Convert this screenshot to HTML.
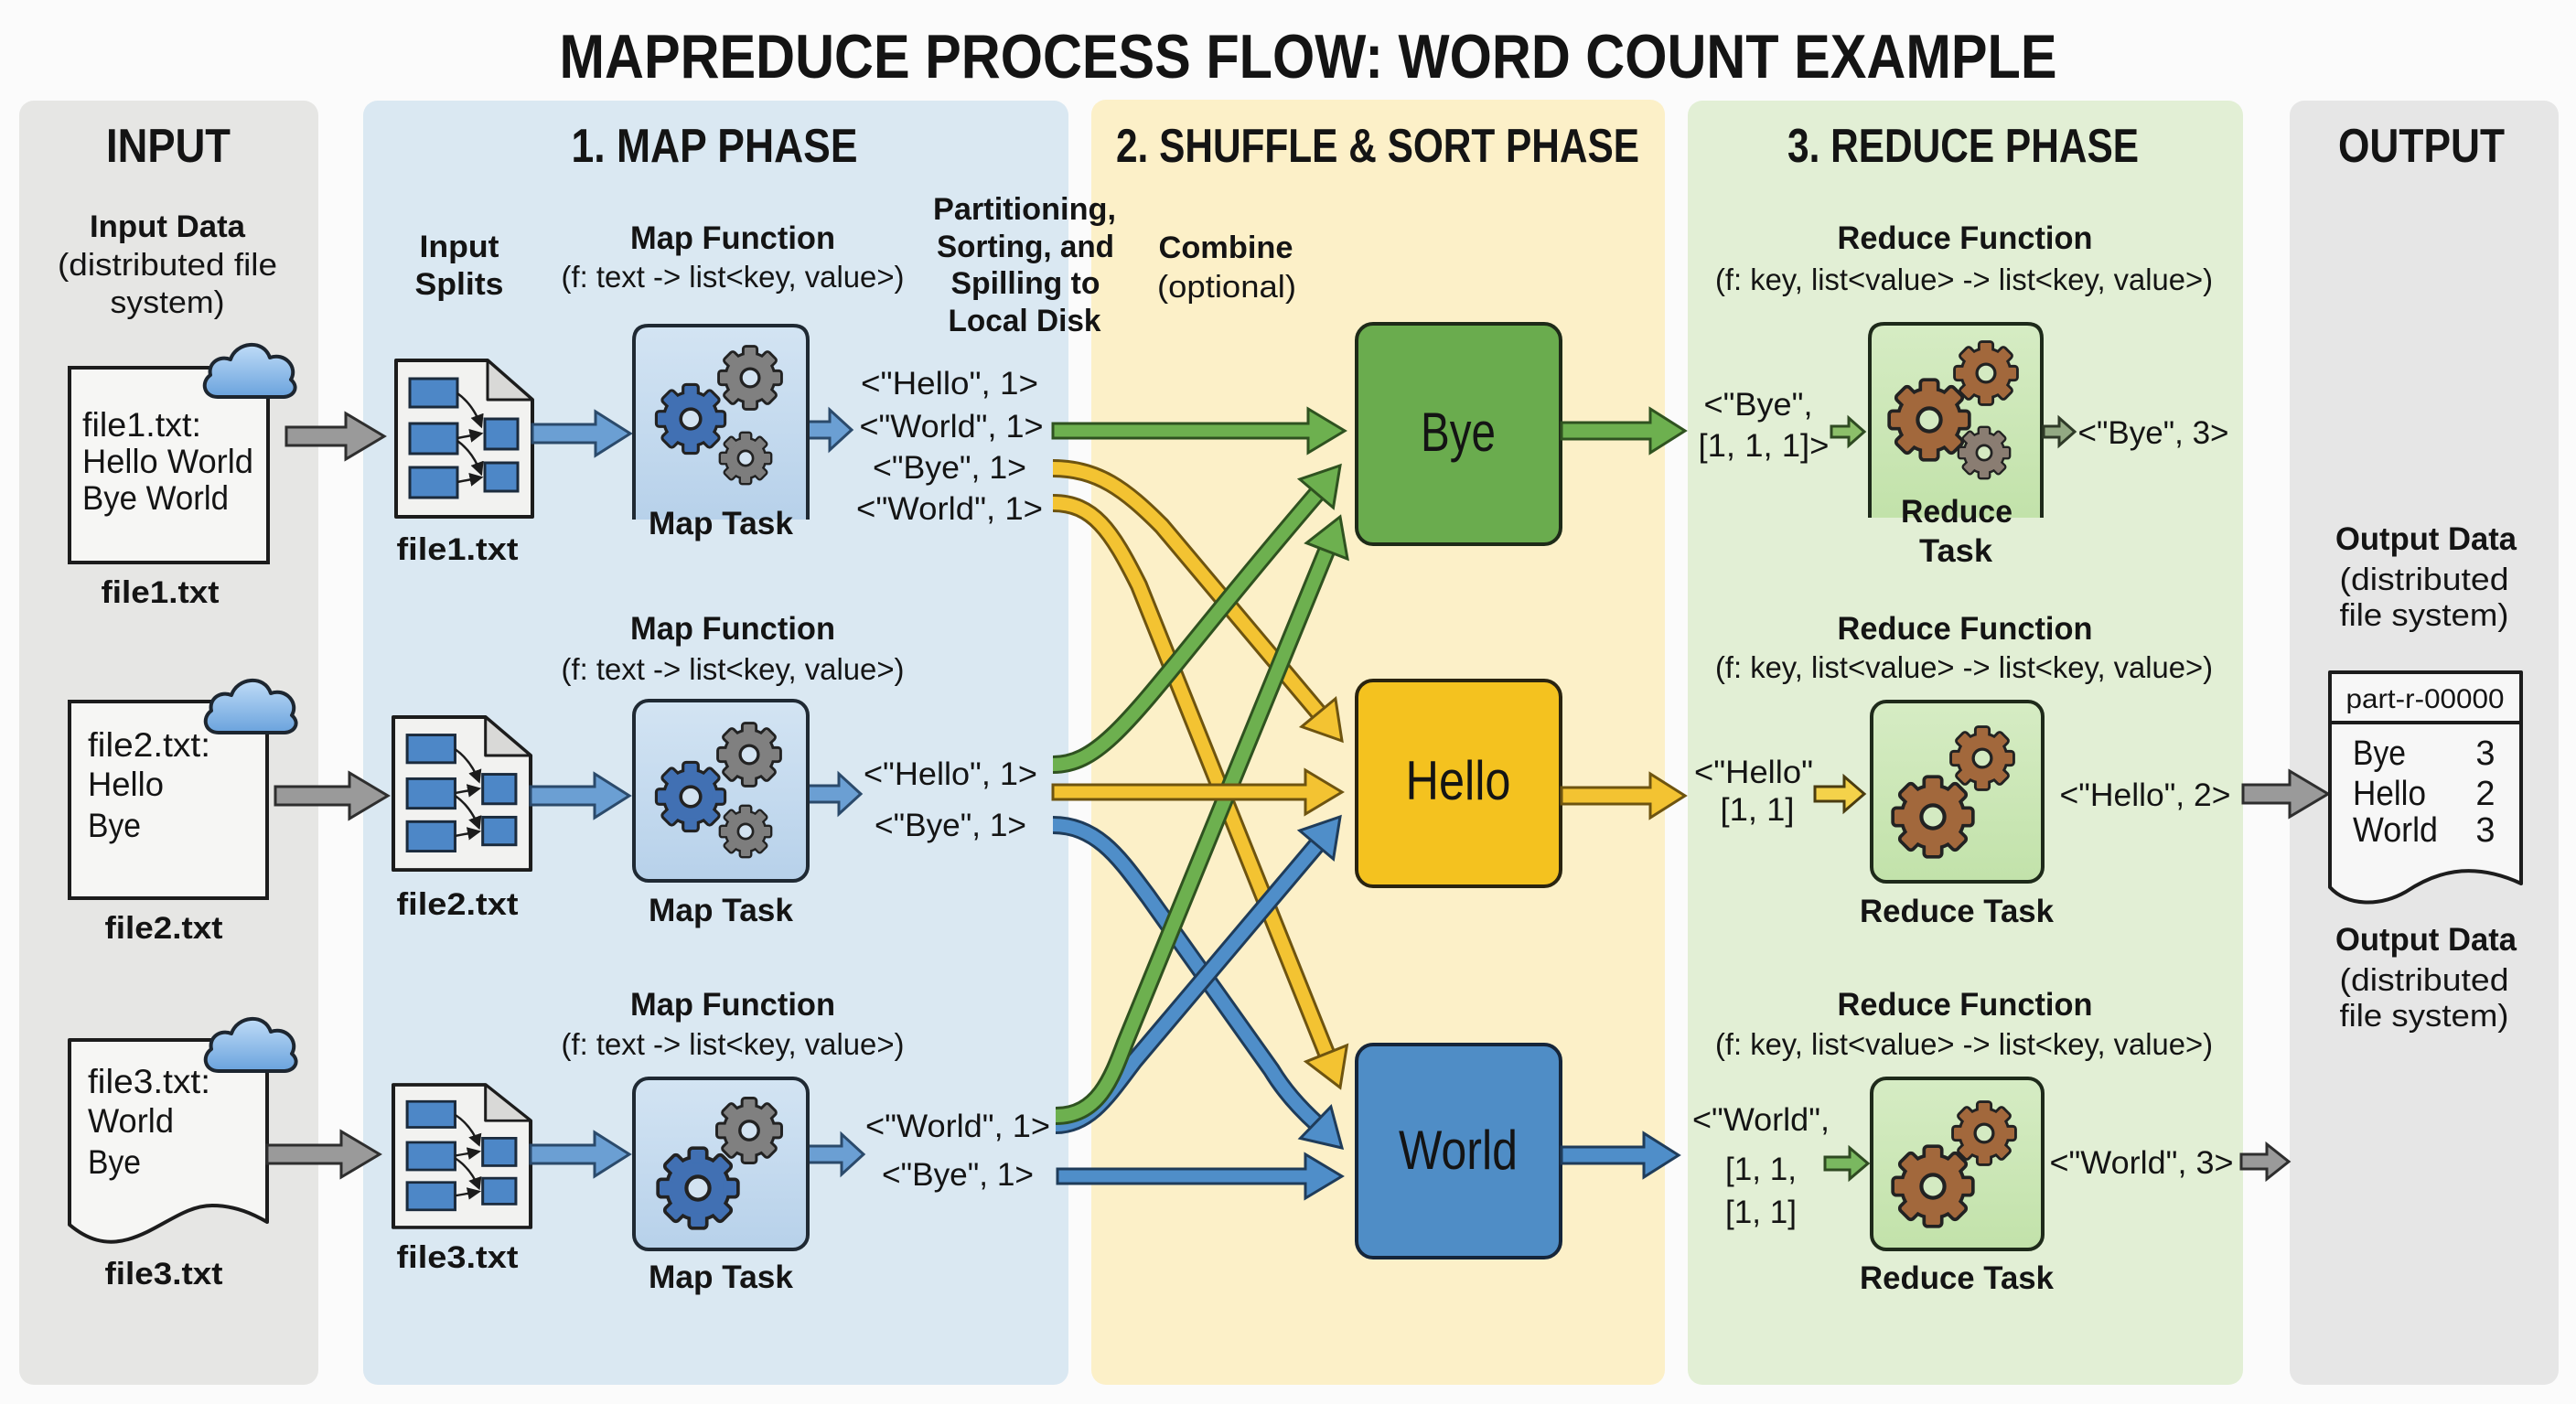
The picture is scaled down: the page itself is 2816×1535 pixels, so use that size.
<!DOCTYPE html>
<html><head><meta charset="utf-8"><title>MapReduce Process Flow</title>
<style>
html,body{margin:0;padding:0;background:#fbfbfb;}
svg{display:block;}
.t{font-family:"Liberation Sans Narrow","Liberation Sans",sans-serif;fill:#141414;}
.r{font-family:"Liberation Sans",sans-serif;fill:#141414;}
.b{font-weight:bold;}
</style></head>
<body>
<svg width="2816" height="1535" viewBox="0 0 2816 1535" xmlns="http://www.w3.org/2000/svg">
<defs>
  <linearGradient id="mapg" x1="0" y1="0" x2="0" y2="1"><stop offset="0" stop-color="#d3e4f3"/><stop offset="1" stop-color="#b7d1ea"/></linearGradient>
  <linearGradient id="redg" x1="0" y1="0" x2="0" y2="1"><stop offset="0" stop-color="#d6ecc4"/><stop offset="1" stop-color="#c2e2aa"/></linearGradient>
  <linearGradient id="cloudg" x1="0" y1="0" x2="0" y2="1"><stop offset="0" stop-color="#bfdcf7"/><stop offset="1" stop-color="#6aa3dd"/></linearGradient>
  <marker id="ah" markerWidth="6" markerHeight="6" refX="5" refY="3" orient="auto" markerUnits="strokeWidth"><path d="M0,0 L6,3 L0,6 Z" fill="#1c1c1c"/></marker>
  <g id="gs">
    <circle r="31"/>
    <rect x="-7.5" y="-40" width="15" height="14" rx="2"/>
    <rect x="-7.5" y="-40" width="15" height="14" rx="2" transform="rotate(45)"/>
    <rect x="-7.5" y="-40" width="15" height="14" rx="2" transform="rotate(90)"/>
    <rect x="-7.5" y="-40" width="15" height="14" rx="2" transform="rotate(135)"/>
    <rect x="-7.5" y="-40" width="15" height="14" rx="2" transform="rotate(180)"/>
    <rect x="-7.5" y="-40" width="15" height="14" rx="2" transform="rotate(225)"/>
    <rect x="-7.5" y="-40" width="15" height="14" rx="2" transform="rotate(270)"/>
    <rect x="-7.5" y="-40" width="15" height="14" rx="2" transform="rotate(315)"/>
  </g>
  <g id="split">
    <path d="M0,0 H100 L149,43 V171 H0 Z" fill="#f2f2f0" stroke="#1c1c1c" stroke-width="4" stroke-linejoin="round"/>
    <path d="M100,0 L149,43 H100 Z" fill="#d9d9d7" stroke="#1c1c1c" stroke-width="3" stroke-linejoin="round"/>
    <g fill="#4d87c7" stroke="#1b2b3d" stroke-width="3">
      <rect x="15" y="20" width="52" height="31"/>
      <rect x="15" y="69" width="52" height="33"/>
      <rect x="15" y="117" width="52" height="33"/>
      <rect x="97" y="64" width="36" height="33"/>
      <rect x="97" y="112" width="36" height="31"/>
    </g>
    <g stroke="#1c1c1c" stroke-width="2.5" fill="none" marker-end="url(#ah)">
      <path d="M67,36 Q84,48 93,72"/>
      <path d="M67,85 L93,80"/>
      <path d="M67,88 Q84,100 93,124"/>
      <path d="M67,133 L93,128"/>
    </g>
  </g>
  <path id="cloud" d="M20,66 C5,66 1,50 12,42 C9,29 22,20 34,25 C40,6 70,2 77,23 C93,17 108,33 100,47 C110,56 102,66 92,66 Z" fill="url(#cloudg)" stroke="#1d2630" stroke-width="4" stroke-linejoin="round"/>
</defs>

<rect x="0" y="0" width="2816" height="1535" fill="#fbfbfb"/>

<!-- Panels -->
<rect x="21" y="110" width="327" height="1404" rx="16" fill="#e6e6e4"/>
<rect x="397" y="110" width="771" height="1404" rx="16" fill="#dae8f2"/>
<rect x="1193" y="109" width="627" height="1405" rx="16" fill="#fcf0c8"/>
<rect x="1845" y="110" width="607" height="1404" rx="16" fill="#e2efd5"/>
<rect x="2503" y="110" width="294" height="1404" rx="16" fill="#e6e6e6"/>

<!-- Title & headings -->
<text class="t b" x="1430" y="85" font-size="68" text-anchor="middle" textLength="1637" lengthAdjust="spacingAndGlyphs">MAPREDUCE PROCESS FLOW: WORD COUNT EXAMPLE</text>
<text class="t b" x="184" y="177" font-size="52" text-anchor="middle" textLength="136" lengthAdjust="spacingAndGlyphs">INPUT</text>
<text class="t b" x="781" y="177" font-size="52" text-anchor="middle" textLength="313" lengthAdjust="spacingAndGlyphs">1. MAP PHASE</text>
<text class="t b" x="1506" y="177" font-size="52" text-anchor="middle" textLength="572" lengthAdjust="spacingAndGlyphs">2. SHUFFLE &amp; SORT PHASE</text>
<text class="t b" x="2146" y="177" font-size="52" text-anchor="middle" textLength="384" lengthAdjust="spacingAndGlyphs">3. REDUCE PHASE</text>
<text class="t b" x="2647" y="177" font-size="52" text-anchor="middle" textLength="182" lengthAdjust="spacingAndGlyphs">OUTPUT</text>

<!-- INPUT column -->
<text class="t b" x="183" y="259" font-size="34" text-anchor="middle" textLength="170" lengthAdjust="spacingAndGlyphs">Input Data</text>
<text class="t" x="183" y="301" font-size="34" text-anchor="middle" textLength="240" lengthAdjust="spacingAndGlyphs">(distributed file</text>
<text class="t" x="183" y="342" font-size="34" text-anchor="middle" textLength="125" lengthAdjust="spacingAndGlyphs">system)</text>

<rect x="76" y="402" width="217" height="213" fill="#f6f6f4" stroke="#1c1c1c" stroke-width="4"/>
<use href="#cloud" x="218" y="368"/>
<text class="r" x="90" y="477" font-size="37" textLength="130" lengthAdjust="spacingAndGlyphs">file1.txt:</text>
<text class="r" x="90" y="517" font-size="37" textLength="187" lengthAdjust="spacingAndGlyphs">Hello World</text>
<text class="r" x="90" y="557" font-size="37" textLength="160" lengthAdjust="spacingAndGlyphs">Bye World</text>
<text class="t b" x="175" y="659" font-size="34" text-anchor="middle" textLength="129" lengthAdjust="spacingAndGlyphs">file1.txt</text>

<rect x="76" y="767" width="216" height="215" fill="#f6f6f4" stroke="#1c1c1c" stroke-width="4"/>
<use href="#cloud" x="219" y="735"/>
<text class="r" x="96" y="827" font-size="37" textLength="134" lengthAdjust="spacingAndGlyphs">file2.txt:</text>
<text class="r" x="96" y="870" font-size="37" textLength="83" lengthAdjust="spacingAndGlyphs">Hello</text>
<text class="r" x="96" y="915" font-size="37" textLength="58" lengthAdjust="spacingAndGlyphs">Bye</text>
<text class="t b" x="179" y="1026" font-size="34" text-anchor="middle" textLength="129" lengthAdjust="spacingAndGlyphs">file2.txt</text>

<path d="M76,1137 H292 V1336 C278,1328 258,1318 232,1318 C200,1318 175,1345 140,1355 C115,1362 95,1355 76,1339 Z" fill="#f6f6f4" stroke="#1c1c1c" stroke-width="4" stroke-linejoin="round"/>
<use href="#cloud" x="219" y="1105"/>
<text class="r" x="96" y="1195" font-size="37" textLength="134" lengthAdjust="spacingAndGlyphs">file3.txt:</text>
<text class="r" x="96" y="1238" font-size="37" textLength="94" lengthAdjust="spacingAndGlyphs">World</text>
<text class="r" x="96" y="1283" font-size="37" textLength="58" lengthAdjust="spacingAndGlyphs">Bye</text>
<text class="t b" x="179" y="1404" font-size="34" text-anchor="middle" textLength="129" lengthAdjust="spacingAndGlyphs">file3.txt</text>

<!-- gray input arrows -->
<g fill="#9a9a9a" stroke="#2e2e2e" stroke-width="3" stroke-linejoin="miter">
  <polygon points="313,467 378,467 378,452 420,477 378,502 378,487 313,487"/>
  <polygon points="301,860 382,860 382,845 424,870 382,895 382,880 301,880"/>
  <polygon points="292,1252 373,1252 373,1237 415,1262 373,1287 373,1272 292,1272"/>
</g>

<!-- MAP column -->
<text class="t b" x="502" y="281" font-size="34" text-anchor="middle" textLength="87" lengthAdjust="spacingAndGlyphs">Input</text>
<text class="t b" x="502" y="322" font-size="34" text-anchor="middle" textLength="97" lengthAdjust="spacingAndGlyphs">Splits</text>

<text class="t b" x="801" y="272" font-size="35" text-anchor="middle" textLength="224" lengthAdjust="spacingAndGlyphs">Map Function</text>
<text class="t" x="801" y="314" font-size="33" text-anchor="middle" textLength="375" lengthAdjust="spacingAndGlyphs">(f: text -&gt; list&lt;key, value&gt;)</text>
<text class="t b" x="801" y="699" font-size="35" text-anchor="middle" textLength="224" lengthAdjust="spacingAndGlyphs">Map Function</text>
<text class="t" x="801" y="743" font-size="33" text-anchor="middle" textLength="375" lengthAdjust="spacingAndGlyphs">(f: text -&gt; list&lt;key, value&gt;)</text>
<text class="t b" x="801" y="1110" font-size="35" text-anchor="middle" textLength="224" lengthAdjust="spacingAndGlyphs">Map Function</text>
<text class="t" x="801" y="1153" font-size="33" text-anchor="middle" textLength="375" lengthAdjust="spacingAndGlyphs">(f: text -&gt; list&lt;key, value&gt;)</text>

<use href="#split" transform="translate(433,394)"/>
<use href="#split" transform="translate(430,784) scale(1.007,0.977)"/>
<use href="#split" transform="translate(430,1186) scale(1.007,0.912)"/>
<text class="t b" x="500" y="612" font-size="34" text-anchor="middle" textLength="133" lengthAdjust="spacingAndGlyphs">file1.txt</text>
<text class="t b" x="500" y="1000" font-size="34" text-anchor="middle" textLength="133" lengthAdjust="spacingAndGlyphs">file2.txt</text>
<text class="t b" x="500" y="1386" font-size="34" text-anchor="middle" textLength="133" lengthAdjust="spacingAndGlyphs">file3.txt</text>

<g fill="#6b9fd3" stroke="#2b4a6b" stroke-width="3">
  <polygon points="582,464 651,464 651,450 689,474 651,498 651,484 582,484"/>
  <polygon points="580,860 650,860 650,846 688,870 650,894 650,880 580,880"/>
  <polygon points="580,1252 650,1252 650,1238 688,1262 650,1286 650,1272 580,1272"/>
  <polygon points="883,461 907,461 907,448 931,470 907,492 907,479 883,479"/>
  <polygon points="883,859 917,859 917,846 941,868 917,890 917,877 883,877"/>
  <polygon points="883,1253 920,1253 920,1240 944,1262 920,1284 920,1271 883,1271"/>
</g>

<!-- map task boxes -->
<path d="M693,568 V372 Q693,356 709,356 H867 Q883,356 883,372 V568" fill="url(#mapg)" stroke="#1f2933" stroke-width="4"/>
<rect x="693" y="766" width="190" height="197" rx="16" fill="url(#mapg)" stroke="#1f2933" stroke-width="4"/>
<rect x="693" y="1179" width="190" height="187" rx="16" fill="url(#mapg)" stroke="#1f2933" stroke-width="4"/>

<!-- map gears -->
<g transform="translate(820,413) scale(0.825)"><use href="#gs" fill="#222" stroke="#222" stroke-width="7"/><use href="#gs" fill="#808080"/><circle r="12" fill="#d3e3f1" stroke="#222" stroke-width="4"/></g>
<g transform="translate(815,501) scale(0.675)"><use href="#gs" fill="#222" stroke="#222" stroke-width="7"/><use href="#gs" fill="#7d7d7d"/><circle r="12" fill="#d3e3f1" stroke="#222" stroke-width="4"/></g>
<g transform="translate(755,458) scale(0.9)"><use href="#gs" fill="#222" stroke="#222" stroke-width="7"/><use href="#gs" fill="#4170b3"/><circle r="12" fill="#d3e3f1" stroke="#222" stroke-width="4"/></g>

<g transform="translate(819,825) scale(0.825)"><use href="#gs" fill="#222" stroke="#222" stroke-width="7"/><use href="#gs" fill="#808080"/><circle r="12" fill="#d3e3f1" stroke="#222" stroke-width="4"/></g>
<g transform="translate(815,909) scale(0.675)"><use href="#gs" fill="#222" stroke="#222" stroke-width="7"/><use href="#gs" fill="#7d7d7d"/><circle r="12" fill="#d3e3f1" stroke="#222" stroke-width="4"/></g>
<g transform="translate(755,871) scale(0.9)"><use href="#gs" fill="#222" stroke="#222" stroke-width="7"/><use href="#gs" fill="#4170b3"/><circle r="12" fill="#d3e3f1" stroke="#222" stroke-width="4"/></g>

<g transform="translate(819,1236) scale(0.85)"><use href="#gs" fill="#222" stroke="#222" stroke-width="7"/><use href="#gs" fill="#808080"/><circle r="12" fill="#d3e3f1" stroke="#222" stroke-width="4"/></g>
<g transform="translate(763,1299) scale(1.05)"><use href="#gs" fill="#222" stroke="#222" stroke-width="7"/><use href="#gs" fill="#4170b3"/><circle r="12" fill="#d3e3f1" stroke="#222" stroke-width="4"/></g>

<text class="t b" x="788" y="584" font-size="35" text-anchor="middle" textLength="158" lengthAdjust="spacingAndGlyphs">Map Task</text>
<text class="t b" x="788" y="1007" font-size="35" text-anchor="middle" textLength="158" lengthAdjust="spacingAndGlyphs">Map Task</text>
<text class="t b" x="788" y="1408" font-size="35" text-anchor="middle" textLength="158" lengthAdjust="spacingAndGlyphs">Map Task</text>

<!-- map outputs -->
<g class="t" font-size="35" text-anchor="middle">
<text x="1038" y="431" textLength="194" lengthAdjust="spacingAndGlyphs">&lt;"Hello", 1&gt;</text>
<text x="1040" y="478" textLength="201" lengthAdjust="spacingAndGlyphs">&lt;"World", 1&gt;</text>
<text x="1038" y="523" textLength="168" lengthAdjust="spacingAndGlyphs">&lt;"Bye", 1&gt;</text>
<text x="1038" y="568" textLength="204" lengthAdjust="spacingAndGlyphs">&lt;"World", 1&gt;</text>
<text x="1039" y="858" textLength="190" lengthAdjust="spacingAndGlyphs">&lt;"Hello", 1&gt;</text>
<text x="1039" y="914" textLength="166" lengthAdjust="spacingAndGlyphs">&lt;"Bye", 1&gt;</text>
<text x="1047" y="1243" textLength="202" lengthAdjust="spacingAndGlyphs">&lt;"World", 1&gt;</text>
<text x="1047" y="1296" textLength="166" lengthAdjust="spacingAndGlyphs">&lt;"Bye", 1&gt;</text>
</g>

<!-- Partitioning / Combine -->
<g class="t b" font-size="34" text-anchor="middle">
<text x="1120" y="240" textLength="200" lengthAdjust="spacingAndGlyphs">Partitioning,</text>
<text x="1121" y="281" textLength="194" lengthAdjust="spacingAndGlyphs">Sorting, and</text>
<text x="1121" y="321" textLength="163" lengthAdjust="spacingAndGlyphs">Spilling to</text>
<text x="1120" y="362" textLength="167" lengthAdjust="spacingAndGlyphs">Local Disk</text>
<text x="1340" y="282" textLength="147" lengthAdjust="spacingAndGlyphs">Combine</text>
</g>
<text class="t" x="1341" y="325" font-size="34" text-anchor="middle" textLength="152" lengthAdjust="spacingAndGlyphs">(optional)</text>

<!-- Shuffle boxes -->
<rect x="1483" y="354" width="223" height="241" rx="18" fill="#6aac4e" stroke="#1e2a18" stroke-width="4"/>
<rect x="1483" y="744" width="223" height="225" rx="18" fill="#f4c21f" stroke="#2a2410" stroke-width="4"/>
<rect x="1483" y="1142" width="223" height="233" rx="18" fill="#4f8dc6" stroke="#15253a" stroke-width="4"/>
<text class="t" x="1594" y="493" font-size="60" text-anchor="middle" textLength="82" lengthAdjust="spacingAndGlyphs">Bye</text>
<text class="t" x="1594" y="874" font-size="60" text-anchor="middle" textLength="115" lengthAdjust="spacingAndGlyphs">Hello</text>
<text class="t" x="1594" y="1278" font-size="60" text-anchor="middle" textLength="130" lengthAdjust="spacingAndGlyphs">World</text>

<!-- Shuffle arrows: curved -->
<g fill="none" stroke-linecap="butt">
  <!-- Y1 -->
  <path d="M1151,512 C1200,512 1230,535 1270,575 L1443,781" stroke="#6e5410" stroke-width="20"/>
  <path d="M1151,512 C1200,512 1230,535 1270,575 L1443,781" stroke="#f3c332" stroke-width="14"/>
  <!-- Y2 -->
  <path d="M1151,550 C1195,550 1215,580 1245,640 L1451,1154" stroke="#6e5410" stroke-width="20"/>
  <path d="M1151,550 C1195,550 1215,580 1245,640 L1451,1154" stroke="#f3c332" stroke-width="14"/>
  <!-- B1 -->
  <path d="M1151,902 C1200,902 1225,940 1255,980 L1390,1170 Q1408,1200 1440,1229" stroke="#1f3c5a" stroke-width="20"/>
  <path d="M1151,902 C1200,902 1225,940 1255,980 L1390,1170 Q1408,1200 1440,1229" stroke="#4f8ec9" stroke-width="14"/>
  <!-- G2 -->
  <path d="M1151,836 C1215,836 1250,760 1441,538" stroke="#2f5220" stroke-width="20"/>
  <path d="M1151,836 C1215,836 1250,760 1441,538" stroke="#6db04f" stroke-width="14"/>
  <!-- B2 -->
  <path d="M1154,1230 C1190,1230 1210,1200 1240,1160 L1441,922" stroke="#1f3c5a" stroke-width="20"/>
  <path d="M1154,1230 C1190,1230 1210,1200 1240,1160 L1441,922" stroke="#4f8ec9" stroke-width="14"/>
  <!-- G3 -->
  <path d="M1154,1220 C1200,1220 1215,1180 1230,1140 L1451,600" stroke="#2f5220" stroke-width="20"/>
  <path d="M1154,1220 C1200,1220 1215,1180 1230,1140 L1451,600" stroke="#6db04f" stroke-width="14"/>
</g>
<g stroke-width="3" stroke-linejoin="miter">
  <polygon points="1467,810 1422.9,794.5 1459.9,763.9" fill="#f3c332" stroke="#6e5410"/>
  <polygon points="1465,1189 1427.8,1160.7 1472.4,1142.9" fill="#f3c332" stroke="#6e5410"/>
  <polygon points="1467,1255 1421.5,1244.5 1454.9,1209.9" fill="#4f8ec9" stroke="#1f3c5a"/>
  <polygon points="1465,509 1457.5,555 1420.9,524" fill="#6db04f" stroke="#2f5220"/>
  <polygon points="1465,893 1457.6,939.1 1420.8,908.1" fill="#4f8ec9" stroke="#1f3c5a"/>
  <polygon points="1465,565 1473,611 1428.2,593.7" fill="#6db04f" stroke="#2f5220"/>
</g>
<!-- Shuffle arrows: straight -->
<g stroke-width="3">
  <polygon points="1151,463 1430,463 1430,447 1470,471 1430,495 1430,479 1151,479" fill="#6db04f" stroke="#2f5220"/>
  <polygon points="1151,858 1427,858 1427,842 1467,866 1427,890 1427,874 1151,874" fill="#f3c332" stroke="#6e5410"/>
  <polygon points="1156,1278 1427,1278 1427,1262 1467,1286 1427,1310 1427,1294 1156,1294" fill="#4f8ec9" stroke="#1f3c5a"/>
  <polygon points="1707,462 1804,462 1804,447 1842,471 1804,495 1804,480 1707,480" fill="#6db04f" stroke="#2f5220"/>
  <polygon points="1707,861 1804,861 1804,846 1842,870 1804,894 1804,879 1707,879" fill="#f3c332" stroke="#6e5410"/>
  <polygon points="1707,1254 1797,1254 1797,1239 1835,1263 1797,1287 1797,1272 1707,1272" fill="#4f8ec9" stroke="#1f3c5a"/>
</g>

<!-- REDUCE column -->
<g class="t b" font-size="35" text-anchor="middle">
<text x="2148" y="272" textLength="279" lengthAdjust="spacingAndGlyphs">Reduce Function</text>
<text x="2148" y="699" textLength="279" lengthAdjust="spacingAndGlyphs">Reduce Function</text>
<text x="2148" y="1110" textLength="279" lengthAdjust="spacingAndGlyphs">Reduce Function</text>
</g>
<g class="t" font-size="33" text-anchor="middle">
<text x="2147" y="317" textLength="544" lengthAdjust="spacingAndGlyphs">(f: key, list&lt;value&gt; -&gt; list&lt;key, value&gt;)</text>
<text x="2147" y="741" textLength="544" lengthAdjust="spacingAndGlyphs">(f: key, list&lt;value&gt; -&gt; list&lt;key, value&gt;)</text>
<text x="2147" y="1153" textLength="544" lengthAdjust="spacingAndGlyphs">(f: key, list&lt;value&gt; -&gt; list&lt;key, value&gt;)</text>
</g>

<path d="M2044,566 V370 Q2044,354 2060,354 H2216 Q2232,354 2232,370 V566" fill="url(#redg)" stroke="#1e2a1a" stroke-width="4"/>
<rect x="2046" y="767" width="187" height="197" rx="16" fill="url(#redg)" stroke="#1e2a1a" stroke-width="4"/>
<rect x="2046" y="1179" width="187" height="187" rx="16" fill="url(#redg)" stroke="#1e2a1a" stroke-width="4"/>

<g transform="translate(2171,408) scale(0.825)"><use href="#gs" fill="#222" stroke="#222" stroke-width="7"/><use href="#gs" fill="#a2683c"/><circle r="12" fill="#d4eac2" stroke="#222" stroke-width="4"/></g>
<g transform="translate(2169,495) scale(0.675)"><use href="#gs" fill="#222" stroke="#222" stroke-width="7"/><use href="#gs" fill="#8a7d72"/><circle r="12" fill="#d4eac2" stroke="#222" stroke-width="4"/></g>
<g transform="translate(2109,459) scale(1.05)"><use href="#gs" fill="#222" stroke="#222" stroke-width="7"/><use href="#gs" fill="#a2683c"/><circle r="12" fill="#d4eac2" stroke="#222" stroke-width="4"/></g>

<g transform="translate(2167,829) scale(0.825)"><use href="#gs" fill="#222" stroke="#222" stroke-width="7"/><use href="#gs" fill="#a2683c"/><circle r="12" fill="#d4eac2" stroke="#222" stroke-width="4"/></g>
<g transform="translate(2113,893) scale(1.05)"><use href="#gs" fill="#222" stroke="#222" stroke-width="7"/><use href="#gs" fill="#a2683c"/><circle r="12" fill="#d4eac2" stroke="#222" stroke-width="4"/></g>

<g transform="translate(2169,1239) scale(0.825)"><use href="#gs" fill="#222" stroke="#222" stroke-width="7"/><use href="#gs" fill="#a2683c"/><circle r="12" fill="#d4eac2" stroke="#222" stroke-width="4"/></g>
<g transform="translate(2113,1297) scale(1.05)"><use href="#gs" fill="#222" stroke="#222" stroke-width="7"/><use href="#gs" fill="#a2683c"/><circle r="12" fill="#d4eac2" stroke="#222" stroke-width="4"/></g>

<g class="t b" font-size="35" text-anchor="middle">
<text x="2139" y="571" textLength="122" lengthAdjust="spacingAndGlyphs">Reduce</text>
<text x="2138" y="614" textLength="80" lengthAdjust="spacingAndGlyphs">Task</text>
<text x="2139" y="1008" textLength="212" lengthAdjust="spacingAndGlyphs">Reduce Task</text>
<text x="2139" y="1409" textLength="212" lengthAdjust="spacingAndGlyphs">Reduce Task</text>
</g>

<g class="t" font-size="35" text-anchor="middle">
<text x="1922" y="454" textLength="119" lengthAdjust="spacingAndGlyphs">&lt;"Bye",</text>
<text x="1928" y="499" textLength="143" lengthAdjust="spacingAndGlyphs">[1, 1, 1]&gt;</text>
<text x="2354" y="485" textLength="165" lengthAdjust="spacingAndGlyphs">&lt;"Bye", 3&gt;</text>
<text x="1917" y="856" textLength="130" lengthAdjust="spacingAndGlyphs">&lt;"Hello"</text>
<text x="1921" y="897" textLength="81" lengthAdjust="spacingAndGlyphs">[1, 1]</text>
<text x="2345" y="881" textLength="187" lengthAdjust="spacingAndGlyphs">&lt;"Hello", 2&gt;</text>
<text x="1925" y="1236" textLength="150" lengthAdjust="spacingAndGlyphs">&lt;"World",</text>
<text x="1925" y="1290" textLength="78" lengthAdjust="spacingAndGlyphs">[1, 1,</text>
<text x="1925" y="1337" textLength="78" lengthAdjust="spacingAndGlyphs">[1, 1]</text>
<text x="2341" y="1283" textLength="201" lengthAdjust="spacingAndGlyphs">&lt;"World", 3&gt;</text>
</g>

<g stroke-width="3">
  <polygon points="2002,466 2021,466 2021,457 2038,472 2021,487 2021,478 2002,478" fill="#8cbf6a" stroke="#2f4a22"/>
  <polygon points="2234,466 2251,466 2251,457 2268,472 2251,487 2251,478 2234,478" fill="#93a983" stroke="#2f3a28"/>
  <polygon points="1984,860 2016,860 2016,849 2038,868 2016,887 2016,876 1984,876" fill="#f4d24a" stroke="#4a3c10"/>
  <polygon points="1995,1265 2022,1265 2022,1255 2042,1272 2022,1289 2022,1279 1995,1279" fill="#7ab860" stroke="#2f4a22"/>
  <polygon points="2452,858 2503,858 2503,843 2545,868 2503,893 2503,878 2452,878" fill="#9a9a9a" stroke="#2e2e2e"/>
  <polygon points="2450,1262 2478,1262 2478,1251 2502,1270 2478,1289 2478,1278 2450,1278" fill="#9a9a9a" stroke="#2e2e2e"/>
</g>

<!-- OUTPUT column -->
<text class="t b" x="2652" y="601" font-size="35" text-anchor="middle" textLength="198" lengthAdjust="spacingAndGlyphs">Output Data</text>
<text class="t" x="2650" y="645" font-size="34" text-anchor="middle" textLength="185" lengthAdjust="spacingAndGlyphs">(distributed</text>
<text class="t" x="2650" y="684" font-size="34" text-anchor="middle" textLength="185" lengthAdjust="spacingAndGlyphs">file system)</text>

<path d="M2547,735 H2756 V966 C2700,940 2660,955 2630,975 C2600,992 2565,990 2547,970 Z" fill="#f7f7f7" stroke="#1c1c1c" stroke-width="4" stroke-linejoin="round"/>
<line x1="2547" y1="790" x2="2756" y2="790" stroke="#1c1c1c" stroke-width="4"/>
<text class="r" x="2651" y="774" font-size="30" text-anchor="middle" textLength="173" lengthAdjust="spacingAndGlyphs">part-r-00000</text>
<text class="r" x="2572" y="836" font-size="38" textLength="58" lengthAdjust="spacingAndGlyphs">Bye</text>
<text class="r" x="2572" y="880" font-size="38" textLength="80" lengthAdjust="spacingAndGlyphs">Hello</text>
<text class="r" x="2572" y="920" font-size="38" textLength="93" lengthAdjust="spacingAndGlyphs">World</text>
<text class="r" x="2717" y="836" font-size="38" text-anchor="middle">3</text>
<text class="r" x="2717" y="880" font-size="38" text-anchor="middle">2</text>
<text class="r" x="2717" y="920" font-size="38" text-anchor="middle">3</text>

<text class="t b" x="2652" y="1039" font-size="35" text-anchor="middle" textLength="198" lengthAdjust="spacingAndGlyphs">Output Data</text>
<text class="t" x="2650" y="1083" font-size="34" text-anchor="middle" textLength="185" lengthAdjust="spacingAndGlyphs">(distributed</text>
<text class="t" x="2650" y="1122" font-size="34" text-anchor="middle" textLength="185" lengthAdjust="spacingAndGlyphs">file system)</text>
</svg>
</body></html>
